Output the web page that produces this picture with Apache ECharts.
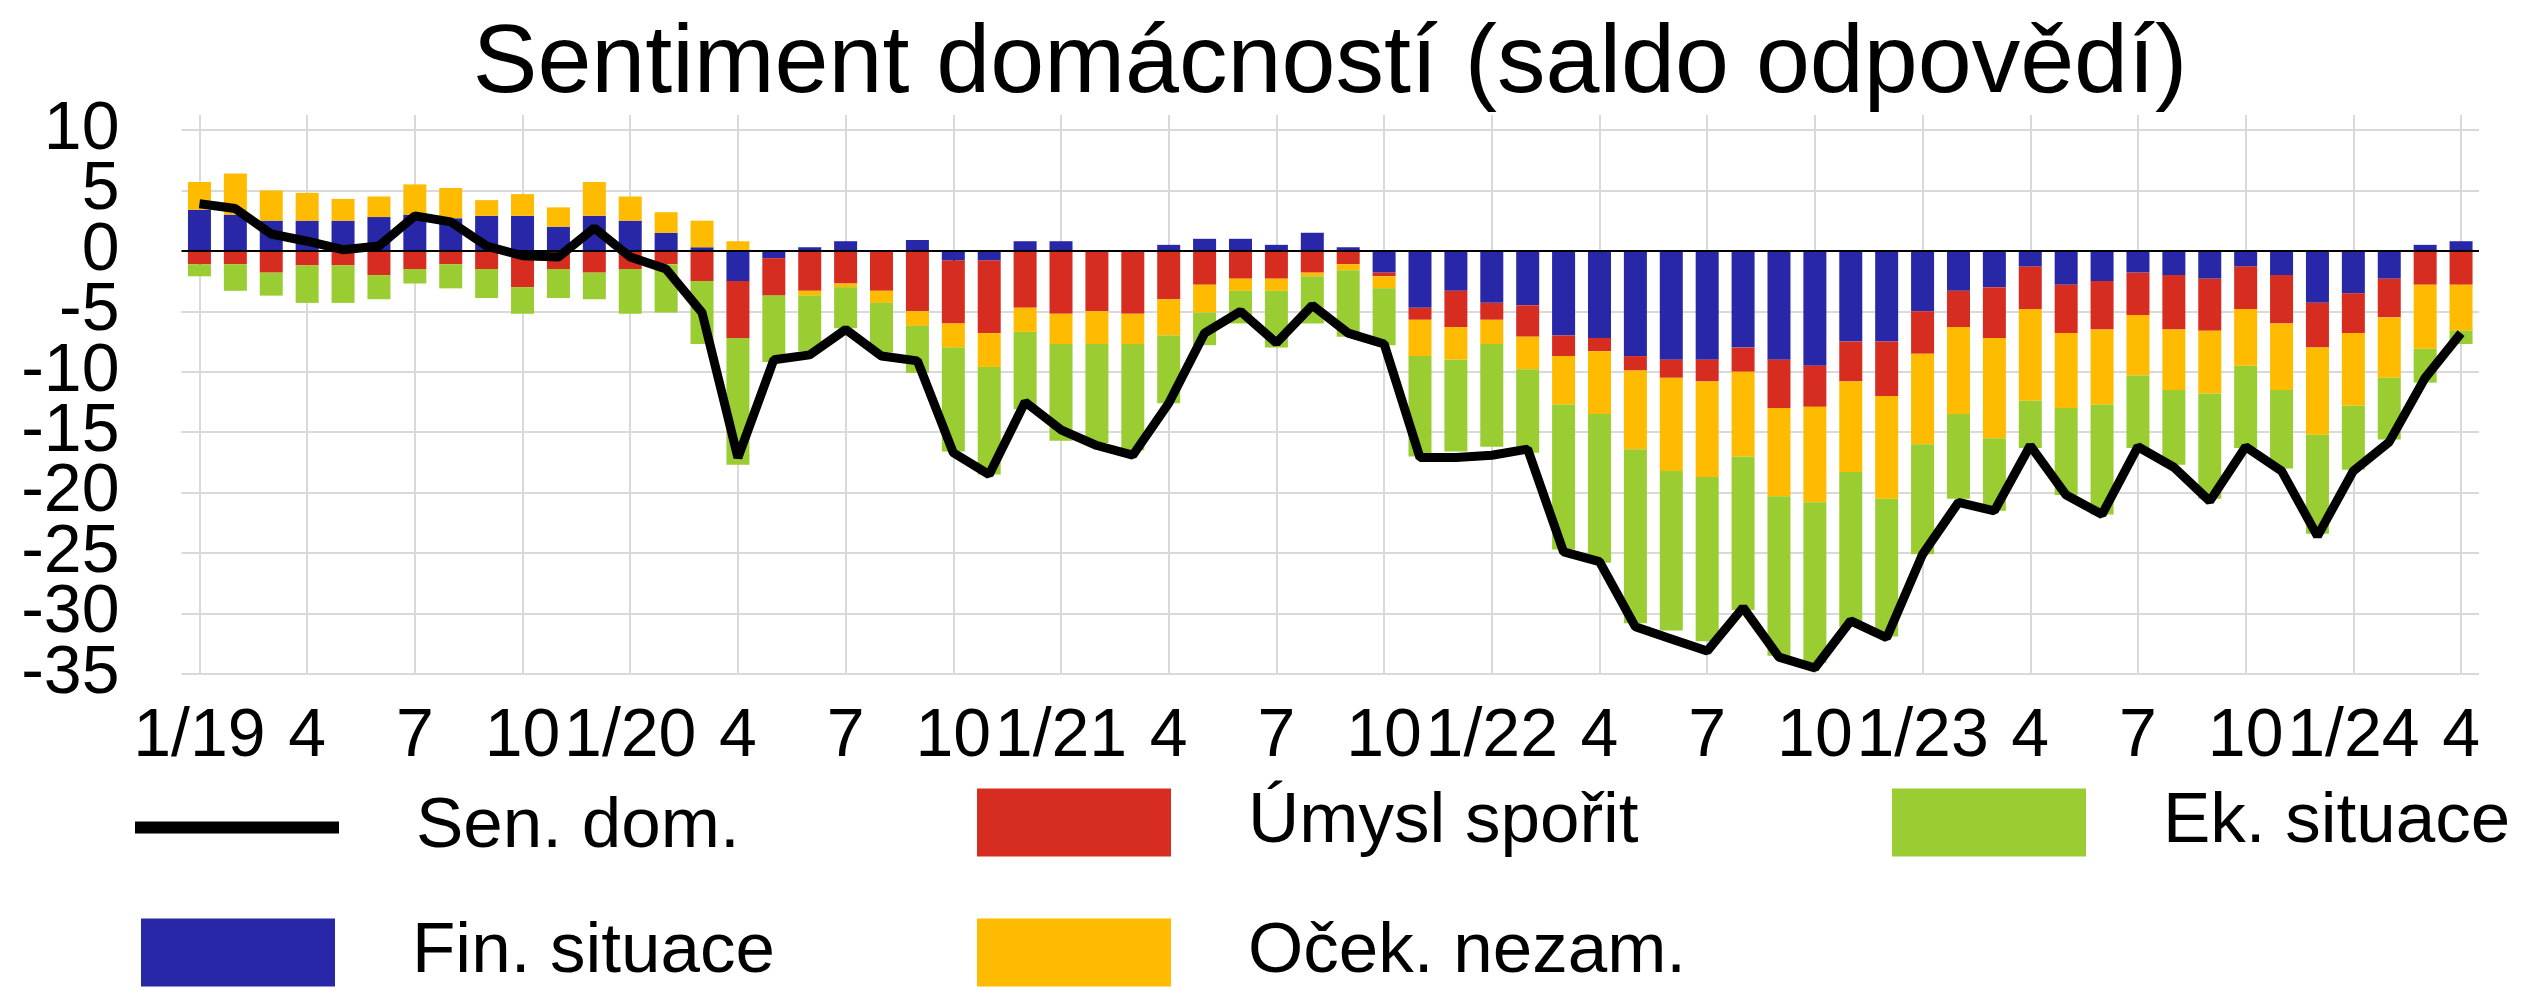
<!DOCTYPE html>
<html>
<head>
<meta charset="utf-8">
<style>
  html, body { margin: 0; padding: 0; background: #fff; }
  #chart { width: 2530px; height: 991px; }
</style>
<script src="https://cdn.jsdelivr.net/npm/echarts@6/dist/echarts.min.js"></script>
</head>
<body>
<div id="chart"></div>
<script>
// months 1/2019 .. 4/2024, only every third one gets a label
const months = [
  '1/19', '2', '3', '4', '5', '6', '7', '8', '9', '10', '11', '12',
  '1/20', '2', '3', '4', '5', '6', '7', '8', '9', '10', '11', '12',
  '1/21', '2', '3', '4', '5', '6', '7', '8', '9', '10', '11', '12',
  '1/22', '2', '3', '4', '5', '6', '7', '8', '9', '10', '11', '12',
  '1/23', '2', '3', '4', '5', '6', '7', '8', '9', '10', '11', '12',
  '1/24', '2', '3', '4',
]

const senDom = [
  3.9, 3.5, 1.4, 0.8, 0.1, 0.4, 2.9, 2.4, 0.4, -0.4, -0.5, 1.9,
  -0.5, -1.5, -5.1, -17.1, -9.0, -8.6, -6.5, -8.7, -9.1, -16.7, -18.5, -12.5,
  -14.8, -16.1, -16.9, -12.6, -6.8, -5.0, -7.6, -4.5, -6.8, -7.7, -17.1, -17.1,
  -16.9, -16.4, -24.9, -25.7, -31.1, -32.1, -33.1, -29.5, -33.6, -34.5, -30.6, -32.0,
  -25.1, -20.8, -21.5, -16.1, -20.2, -21.8, -16.2, -17.9, -20.7, -16.2, -18.2, -23.6,
  -18.2, -15.8, -10.5, -6.8,
]

const finSituace = [
  3.4, 3.0, 2.5, 2.5, 2.5, 2.8, 3.0, 2.7, 2.9, 2.9, 2.0, 2.9,
  2.5, 1.5, 0.3, -2.5, -0.6, 0.3, 0.8, 0.0, 0.9, -0.8, -0.8, 0.8,
  0.8, 0.0, 0.0, 0.5, 1.0, 1.0, 0.5, 1.5, 0.3, -1.8, -4.7, -3.3,
  -4.3, -4.5, -7.0, -7.2, -8.7, -9.0, -9.0, -8.0, -9.0, -9.5, -7.5, -7.5,
  -5.0, -3.3, -3.0, -1.3, -2.8, -2.5, -1.8, -2.0, -2.3, -1.3, -2.0, -4.3,
  -3.5, -2.3, 0.5, 0.8,
]

const umyslSporit = [
  -1.1, -1.1, -1.8, -1.2, -1.2, -2.0, -1.5, -1.1, -1.5, -3.0, -1.5, -1.8,
  -1.5, -1.1, -2.5, -4.7, -3.1, -3.3, -2.7, -3.3, -5.0, -5.2, -6.0, -4.7,
  -5.2, -5.0, -5.2, -4.0, -2.8, -2.3, -2.3, -1.8, -1.1, -0.3, -1.0, -3.0,
  -1.4, -2.6, -1.7, -1.1, -1.2, -1.5, -1.8, -2.0, -4.0, -3.4, -3.3, -4.5,
  -3.5, -3.0, -4.2, -3.5, -4.0, -4.0, -3.5, -4.5, -4.3, -3.5, -4.0, -3.7,
  -3.3, -3.2, -2.8, -2.8,
]

const ocekNezam = [
  2.3, 3.4, 2.5, 2.3, 1.8, 1.7, 2.5, 2.5, 1.3, 1.8, 1.6, 2.8,
  2.0, 1.7, 2.2, 0.8, 0.0, -0.4, -0.3, -1.0, -1.2, -2.0, -2.8, -2.0,
  -2.5, -2.7, -2.5, -3.0, -2.3, -1.0, -1.0, -0.3, -0.5, -1.0, -3.0, -2.7,
  -2.0, -2.7, -4.0, -5.2, -6.5, -7.7, -7.9, -7.0, -7.3, -7.9, -7.5, -8.5,
  -7.5, -7.2, -8.3, -7.6, -6.2, -6.2, -5.0, -5.0, -5.2, -4.7, -5.5, -7.2,
  -6.0, -5.0, -5.3, -3.8,
]

const ekSituace = [
  -1.0, -2.2, -1.9, -3.1, -3.1, -2.0, -1.2, -2.0, -2.4, -2.2, -2.4, -2.2,
  -3.7, -4.0, -5.2, -10.5, -5.5, -4.6, -3.4, -4.1, -3.9, -8.6, -8.9, -6.4,
  -8.0, -8.2, -8.8, -5.6, -2.7, -2.7, -4.7, -3.9, -5.5, -4.7, -8.3, -7.6,
  -8.5, -6.9, -12.0, -12.3, -14.4, -13.2, -13.6, -12.7, -13.2, -13.3, -12.8, -11.4,
  -9.1, -7.0, -6.0, -3.9, -7.2, -9.1, -6.0, -6.2, -8.7, -6.8, -6.5, -8.2,
  -5.3, -5.1, -2.8, -1.1,
]

const Y_MIN = -35
const Y_MAX = 10

const FONT = '"Liberation Sans", Arial, sans-serif'
const GRID_LINE = { color: '#d9d9d9', width: 2 }
const Y_LABEL = { fontSize: 68, color: '#000', margin: 62, fontFamily: FONT }

function bar(name, data, color) {
  return {
    name,
    type: 'bar',
    stack: 'total',
    barWidth: 23,
    data,
    itemStyle: { color },
  }
}

// text box kept shorter than the icon so that "top" is the icon's top edge
function legendAt(name, left, top, itemWidth, itemHeight) {
  return {
    data: [name],
    icon: 'rect',
    left,
    top,
    padding: 0,
    itemWidth,
    itemHeight,
    selectedMode: false,
    textStyle: { fontSize: 71, lineHeight: 40, color: '#000', fontFamily: FONT, padding: [18, 0, 0, 72] },
  }
}

const chart = echarts.init(document.getElementById('chart'))

chart.setOption({
  animation: false,
  textStyle: { fontFamily: FONT },
  title: {
    text: 'Sentiment domácností (saldo odpovědí)',
    left: 1330,
    top: 17,
    padding: 0,
    textAlign: 'center',
    textStyle: { fontSize: 97, fontWeight: 'normal', color: '#000', fontFamily: FONT },
  },
  grid: [
    { left: 181.5, right: 51, top: 130, bottom: 317, containLabel: false, outerBoundsMode: 'none' },
    // taller twin grid, only for the vertical grid lines that poke above the top line
    { left: 181.5, right: 51, top: 115, bottom: 317, containLabel: false, outerBoundsMode: 'none' },
  ],
  legend: [
    // thin line icon: its 58px text box sticks out 23px above the 12px icon
    legendAt('Sen. dom.', 135, 792, 204, 12),
    legendAt('Úmysl spořit', 977, 787, 194, 68),
    legendAt('Ek. situace', 1892, 787, 194, 68),
    legendAt('Fin. situace', 141, 917, 194, 68),
    legendAt('Oček. nezam.', 977, 917, 194, 68),
  ],
  xAxis: [
    {
      type: 'category',
      data: months,
      boundaryGap: true,
      offset: 17,
      axisLine: { show: false },
      axisTick: { show: true, alignWithLabel: true, interval: 2, length: 14, lineStyle: { color: '#000', width: 2 } },
      axisLabel: { interval: 2, fontSize: 68, color: '#000', margin: 12, fontFamily: FONT },
      splitLine: { show: false },
    },
    {
      type: 'category',
      gridIndex: 1,
      data: months,
      boundaryGap: true,
      axisLine: { show: false },
      axisTick: { show: false },
      axisLabel: { show: false },
      splitLine: { show: true, interval: 2, alignWithLabel: true, lineStyle: GRID_LINE },
    },
  ],
  yAxis: [
    // inner labels (5 .. -30); the big labels touch, so echarts would drop one at each end
    {
      type: 'value',
      position: 'left',
      min: Y_MIN,
      max: Y_MAX,
      interval: 5,
      axisLine: { show: false },
      axisTick: { show: false },
      axisLabel: { ...Y_LABEL, showMinLabel: false, showMaxLabel: false },
      splitLine: { lineStyle: GRID_LINE },
    },
    // same scale, carries only the end labels 10 and -35
    {
      type: 'value',
      position: 'left',
      min: Y_MIN,
      max: Y_MAX,
      interval: 5,
      axisLine: { show: false },
      axisTick: { show: false },
      axisLabel: {
        ...Y_LABEL,
        showMinLabel: true,
        showMaxLabel: true,
        formatter: (v) => (v === Y_MIN || v === Y_MAX ? String(v) : ''),
      },
      splitLine: { show: false },
    },
    { type: 'value', gridIndex: 1, show: false, splitLine: { show: false } },
  ],
  series: [
    bar('Fin. situace', finSituace, '#2727a8'),
    bar('Úmysl spořit', umyslSporit, '#d62d20'),
    bar('Oček. nezam.', ocekNezam, '#ffbb00'),
    bar('Ek. situace', ekSituace, '#9acd32'),
    {
      name: 'Sen. dom.',
      type: 'line',
      data: senDom,
      symbol: 'none',
      z: 5,
      lineStyle: { color: '#000', width: 9 },
      itemStyle: { color: '#000' },
      markLine: {
        silent: true,
        symbol: ['none', 'none'],
        label: { show: false },
        lineStyle: { color: '#000', width: 2, type: 'solid' },
        data: [{ yAxis: 0 }],
      },
    },
  ],
})
</script>
</body>
</html>
